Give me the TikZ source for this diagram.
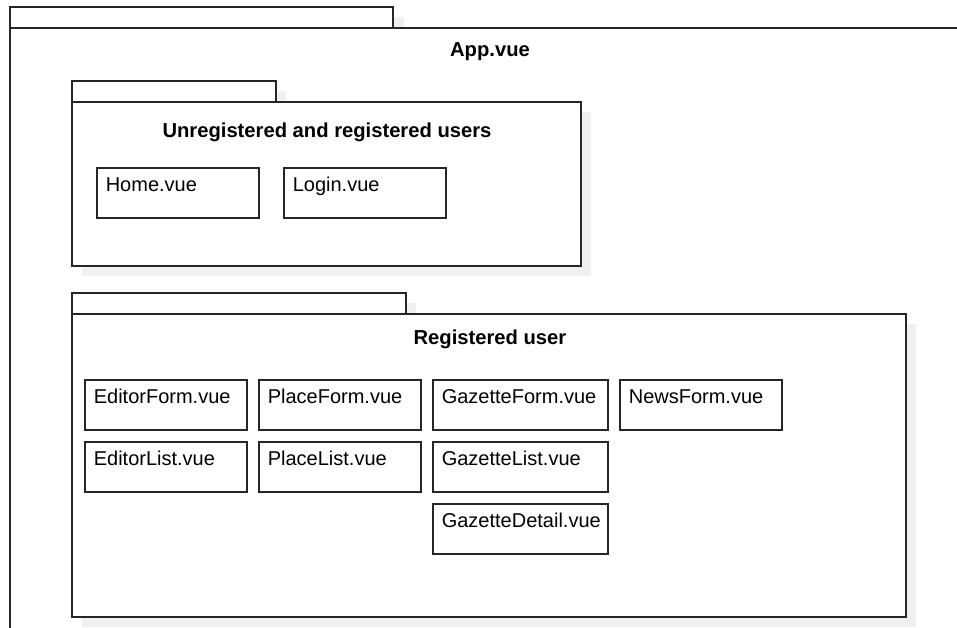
\documentclass[tikz,border=0pt]{standalone}
\usepackage{fontspec}
\setmainfont{Liberation Sans}
\begin{document}
\begin{tikzpicture}[x=1pt,y=-1pt,
  line width=1.6pt,
  ink/.style={draw=black!85},
  pkg/.style={ink, fill=white, rectangle, inner sep=0pt, outer sep=0pt, anchor=north west},
  shade/.style={fill=black!6, draw=none},
  filebox/.style={ink, rectangle, inner sep=0pt, outer sep=0pt, anchor=north west,
    minimum height=50pt, minimum width=162pt},
  filetext/.style={anchor=base west, inner sep=0pt, font=\fontsize{20}{24}\selectfont,
    xshift=8pt, yshift=-23pt},
  pkgtitle/.style={anchor=base, inner sep=0pt, font=\fontsize{20.2}{24}\selectfont\bfseries}
]
\useasboundingbox (0,0) rectangle (957,627);

% App.vue package
\fill[shade] (20,17) rectangle (404,38);
\node[pkg, minimum width=383pt, minimum height=21pt] (apptab) at (10,7) {};
\node[pkg, minimum width=980pt, minimum height=640pt] (app) at (10,28) {};
\node[pkgtitle] (apptitle) at (490,56) {App.vue};

% drop shadows of the nested packages
\fill[shade] (82,91) rectangle (286,112);
\fill[shade] (82,112) rectangle (591,276);
\fill[shade] (82,303) rectangle (416,324);
\fill[shade] (82,324) rectangle (916,627);

% Unregistered and registered users package
\node[pkg, minimum width=204pt, minimum height=21pt] (pubtab) at (72,81) {};
\node[pkg, minimum width=509pt, minimum height=164pt] (pub) at (72,102) {};
\node[pkgtitle] (pubtitle) at (327,137) {Unregistered and registered users};

\node[filebox] (home) at (97,168) {};
\node[filetext] at (home.north west) {Home.vue};
\node[filebox] (login) at (284,168) {};
\node[filetext] at (login.north west) {Login.vue};

% Registered user package
\node[pkg, minimum width=334pt, minimum height=21pt] (regtab) at (72,293) {};
\node[pkg, minimum width=834pt, minimum height=303pt] (reg) at (72,314) {};
\node[pkgtitle] (regtitle) at (490,344) {Registered user};

\node[filebox] (editorform) at (85,380) {};
\node[filetext] at (editorform.north west) {EditorForm.vue};
\node[filebox] (placeform) at (259,380) {};
\node[filetext] at (placeform.north west) {PlaceForm.vue};
\node[filebox, minimum width=175pt] (gazetteform) at (433,380) {};
\node[filetext] at (gazetteform.north west) {GazetteForm.vue};
\node[filebox] (newsform) at (620,380) {};
\node[filetext] at (newsform.north west) {NewsForm.vue};

\node[filebox] (editorlist) at (85,442) {};
\node[filetext] at (editorlist.north west) {EditorList.vue};
\node[filebox] (placelist) at (259,442) {};
\node[filetext] at (placelist.north west) {PlaceList.vue};
\node[filebox, minimum width=175pt] (gazettelist) at (433,442) {};
\node[filetext] at (gazettelist.north west) {GazetteList.vue};

\node[filebox, minimum width=175pt] (gazettedetail) at (433,504) {};
\node[filetext] at (gazettedetail.north west) {GazetteDetail.vue};
\end{tikzpicture}
\end{document}
